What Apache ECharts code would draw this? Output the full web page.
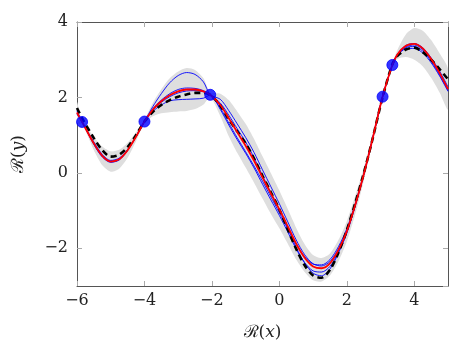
<!DOCTYPE html>
<html>
<head>
<meta charset="utf-8">
<script src="https://cdn.jsdelivr.net/npm/echarts@6/dist/echarts.min.js"></script>
<style>html,body{margin:0;padding:0;background:#fff}#c{width:463px;height:353px}</style>
</head>
<body>
<div id="c"></div>
<script>
var xs      = [-6, -5.85, -5.5, -5.25, -5, -4.75, -4.5, -4.25, -4, -3.75, -3.5, -3.25, -3, -2.75, -2.5, -2.25, -2.05, -1.75, -1.5, -1.25, -1, -0.75, -0.5, -0.25, 0, 0.25, 0.5, 0.75, 1, 1.25, 1.5, 1.75, 2, 2.25, 2.5, 2.75, 3.06, 3.35, 3.5, 3.75, 4, 4.25, 4.5, 4.75, 5];
var truth   = [1.72, 1.45, 0.92, 0.60, 0.43, 0.48, 0.68, 1.00, 1.36, 1.62, 1.80, 1.93, 2.02, 2.08, 2.12, 2.12, 2.07, 1.78, 1.42, 1.10, 0.78, 0.38, -0.08, -0.52, -0.97, -1.50, -2.02, -2.45, -2.72, -2.78, -2.57, -2.12, -1.52, -0.80, -0.02, 0.85, 2.00, 2.88, 3.10, 3.27, 3.32, 3.20, 3.00, 2.75, 2.48];
var mean    = [1.60, 1.35, 0.78, 0.45, 0.30, 0.36, 0.60, 0.96, 1.36, 1.68, 1.90, 2.06, 2.16, 2.21, 2.21, 2.16, 2.07, 1.80, 1.45, 1.08, 0.72, 0.32, -0.12, -0.55, -0.97, -1.42, -1.88, -2.25, -2.48, -2.53, -2.40, -2.05, -1.55, -0.85, -0.05, 0.85, 2.02, 2.86, 3.14, 3.37, 3.42, 3.30, 3.02, 2.65, 2.22];
var upper   = [1.88, 1.40, 0.96, 0.70, 0.57, 0.61, 0.80, 1.08, 1.41, 1.86, 2.22, 2.51, 2.69, 2.78, 2.73, 2.51, 2.13, 2.10, 1.93, 1.63, 1.30, 0.90, 0.44, -0.01, -0.47, -0.96, -1.46, -1.89, -2.18, -2.26, -2.14, -1.78, -1.28, -0.61, 0.12, 0.95, 2.06, 2.90, 3.26, 3.67, 3.84, 3.77, 3.52, 3.17, 2.76];
var lower   = [1.32, 1.30, 0.60, 0.20, 0.03, 0.11, 0.40, 0.84, 1.31, 1.50, 1.58, 1.61, 1.63, 1.64, 1.69, 1.81, 2.01, 1.50, 0.97, 0.53, 0.14, -0.26, -0.68, -1.09, -1.47, -1.88, -2.30, -2.63, -2.85, -2.88, -2.72, -2.35, -1.82, -1.09, -0.22, 0.75, 1.98, 2.82, 3.02, 3.07, 3.00, 2.83, 2.52, 2.13, 1.68];
var sample1 = [1.65, 1.35, 0.82, 0.49, 0.33, 0.39, 0.62, 0.97, 1.36, 1.76, 2.10, 2.39, 2.58, 2.66, 2.61, 2.41, 2.07, 1.95, 1.65, 1.30, 0.94, 0.54, 0.08, -0.37, -0.82, -1.30, -1.78, -2.17, -2.41, -2.47, -2.35, -2.02, -1.53, -0.84, -0.05, 0.85, 2.02, 2.86, 3.12, 3.32, 3.35, 3.23, 2.96, 2.60, 2.18];
var sample2 = [1.55, 1.35, 0.75, 0.42, 0.28, 0.34, 0.59, 0.96, 1.36, 1.63, 1.80, 1.91, 1.94, 1.95, 1.96, 1.98, 2.07, 1.68, 1.27, 0.88, 0.52, 0.13, -0.30, -0.72, -1.13, -1.57, -2.02, -2.38, -2.60, -2.63, -2.48, -2.10, -1.58, -0.87, -0.06, 0.85, 2.02, 2.86, 3.11, 3.29, 3.30, 3.18, 2.92, 2.57, 2.16];
var sample3 = [1.62, 1.35, 0.79, 0.46, 0.31, 0.37, 0.61, 0.96, 1.36, 1.70, 1.93, 2.10, 2.21, 2.25, 2.24, 2.18, 2.07, 1.85, 1.53, 1.17, 0.82, 0.40, -0.07, -0.53, -0.97, -1.47, -1.98, -2.39, -2.66, -2.73, -2.55, -2.13, -1.60, -0.87, -0.05, 0.85, 2.02, 2.86, 3.13, 3.34, 3.39, 3.27, 3.00, 2.64, 2.22];
var sample4 = [1.58, 1.35, 0.77, 0.44, 0.29, 0.35, 0.60, 0.96, 1.36, 1.66, 1.87, 2.02, 2.12, 2.17, 2.18, 2.15, 2.07, 1.72, 1.32, 0.93, 0.56, 0.18, -0.22, -0.64, -1.06, -1.49, -1.90, -2.22, -2.42, -2.44, -2.30, -1.96, -1.48, -0.81, -0.04, 0.86, 2.02, 2.86, 3.15, 3.38, 3.43, 3.32, 3.05, 2.70, 2.28];
var obsX    = [-5.85, -4.0, -2.05, 3.06, 3.35];
var obsY    = [1.35, 1.36, 2.07, 2.02, 2.86];

function pairs(arr){ return xs.map(function(x,i){ return [x, arr[i]]; }); }
var obs = obsX.map(function(x,i){ return [x, obsY[i]]; });

var serif = 'DejaVu Serif';
function fmt(v){ return String(v).replace('-', '\u2212'); }
var frameColor = '#555';
var tickColor = '#aaa';

function axisCommon(){
  return {
    axisLine: {show: true, onZero: false, lineStyle: {color: frameColor, width: 1}},
    axisTick: {show: true, inside: true, length: 5, lineStyle: {color: tickColor, width: 1}},
    splitLine: {show: false}
  };
}

var chart = echarts.init(document.getElementById('c'), null, {renderer: 'canvas'});
var nameRich = {
  r: {fontFamily: 'DejaVu Serif', fontSize: 17, color: '#222'},
  p: {fontFamily: serif, fontSize: 17, color: '#222'},
  i: {fontFamily: serif, fontSize: 17, fontStyle: 'italic', color: '#222'}
};
var xb = Object.assign(axisCommon(), {
  type: 'value', min: -6, max: 5, interval: 2, position: 'bottom',
  axisLabel: {showMaxLabel: false, formatter: fmt, fontFamily: serif, fontSize: 16, color: '#222', margin: 7},
  name: '{r|\u211B}{p|(}{i|x}{p|)}', nameLocation: 'middle', nameGap: 38,
  nameTextStyle: {rich: nameRich, fontFamily: serif}
});
var xt = Object.assign(axisCommon(), {
  type: 'value', min: -6, max: 5, interval: 2, position: 'top',
  axisLabel: {show: false}
});
var yl = Object.assign(axisCommon(), {
  type: 'value', min: -3, max: 4, splitNumber: 4, position: 'left',
  axisLabel: {showMinLabel: false, formatter: fmt, fontFamily: serif, fontSize: 16, color: '#222', margin: 9},
  name: '{r|\u211B}{p|(}{i|y}{p|)}', nameLocation: 'middle', nameGap: 50, nameRotate: 90,
  nameTextStyle: {rich: nameRich, fontFamily: serif}
});
var yr = Object.assign(axisCommon(), {
  type: 'value', min: -3, max: 4, splitNumber: 4, position: 'right',
  axisLabel: {show: false}
});

function curve(arr, color, width, z, dash){
  return {type: 'line', data: pairs(arr), smooth: 0.3, symbol: 'none', z: z, silent: true,
    lineStyle: {color: color, width: width, type: dash || 'solid'}};
}

function renderBand(params, api){
  var pts = [];
  for (var i = 0; i < xs.length; i++) pts.push(api.coord([xs[i], upper[i]]));
  for (var j = xs.length - 1; j >= 0; j--) pts.push(api.coord([xs[j], lower[j]]));
  var cs = params.coordSys;
  return {
    type: 'polygon',
    shape: {points: pts, smooth: 0.25},
    style: {fill: '#dedede', stroke: null},
    clipPath: {type: 'rect', shape: {x: cs.x, y: cs.y, width: cs.width, height: cs.height}}
  };
}

chart.setOption({
  animation: false,
  textStyle: {fontFamily: serif},
  grid: {left: 77, right: 15, top: 22, bottom: 67, containLabel: false},
  xAxis: [xb, xt],
  yAxis: [yl, yr],
  series: [
    {type: 'custom', data: [[0, 0]], renderItem: renderBand, z: 1, silent: true},
    curve(sample1, '#0000ff', 0.9, 3),
    curve(sample2, '#0000ff', 0.9, 3),
    curve(sample3, '#0000ff', 0.9, 3),
    curve(sample4, '#0000ff', 0.9, 3),
    curve(truth, '#000000', 2.6, 4, [6, 4]),
    curve(mean, '#ff0000', 1.8, 5),
    {type: 'scatter', data: obs, symbol: 'circle', symbolSize: 11, z: 6, silent: true,
      itemStyle: {color: '#0000ff', borderColor: '#0000ff', borderWidth: 1}}
  ]
});
</script>
</body>
</html>
